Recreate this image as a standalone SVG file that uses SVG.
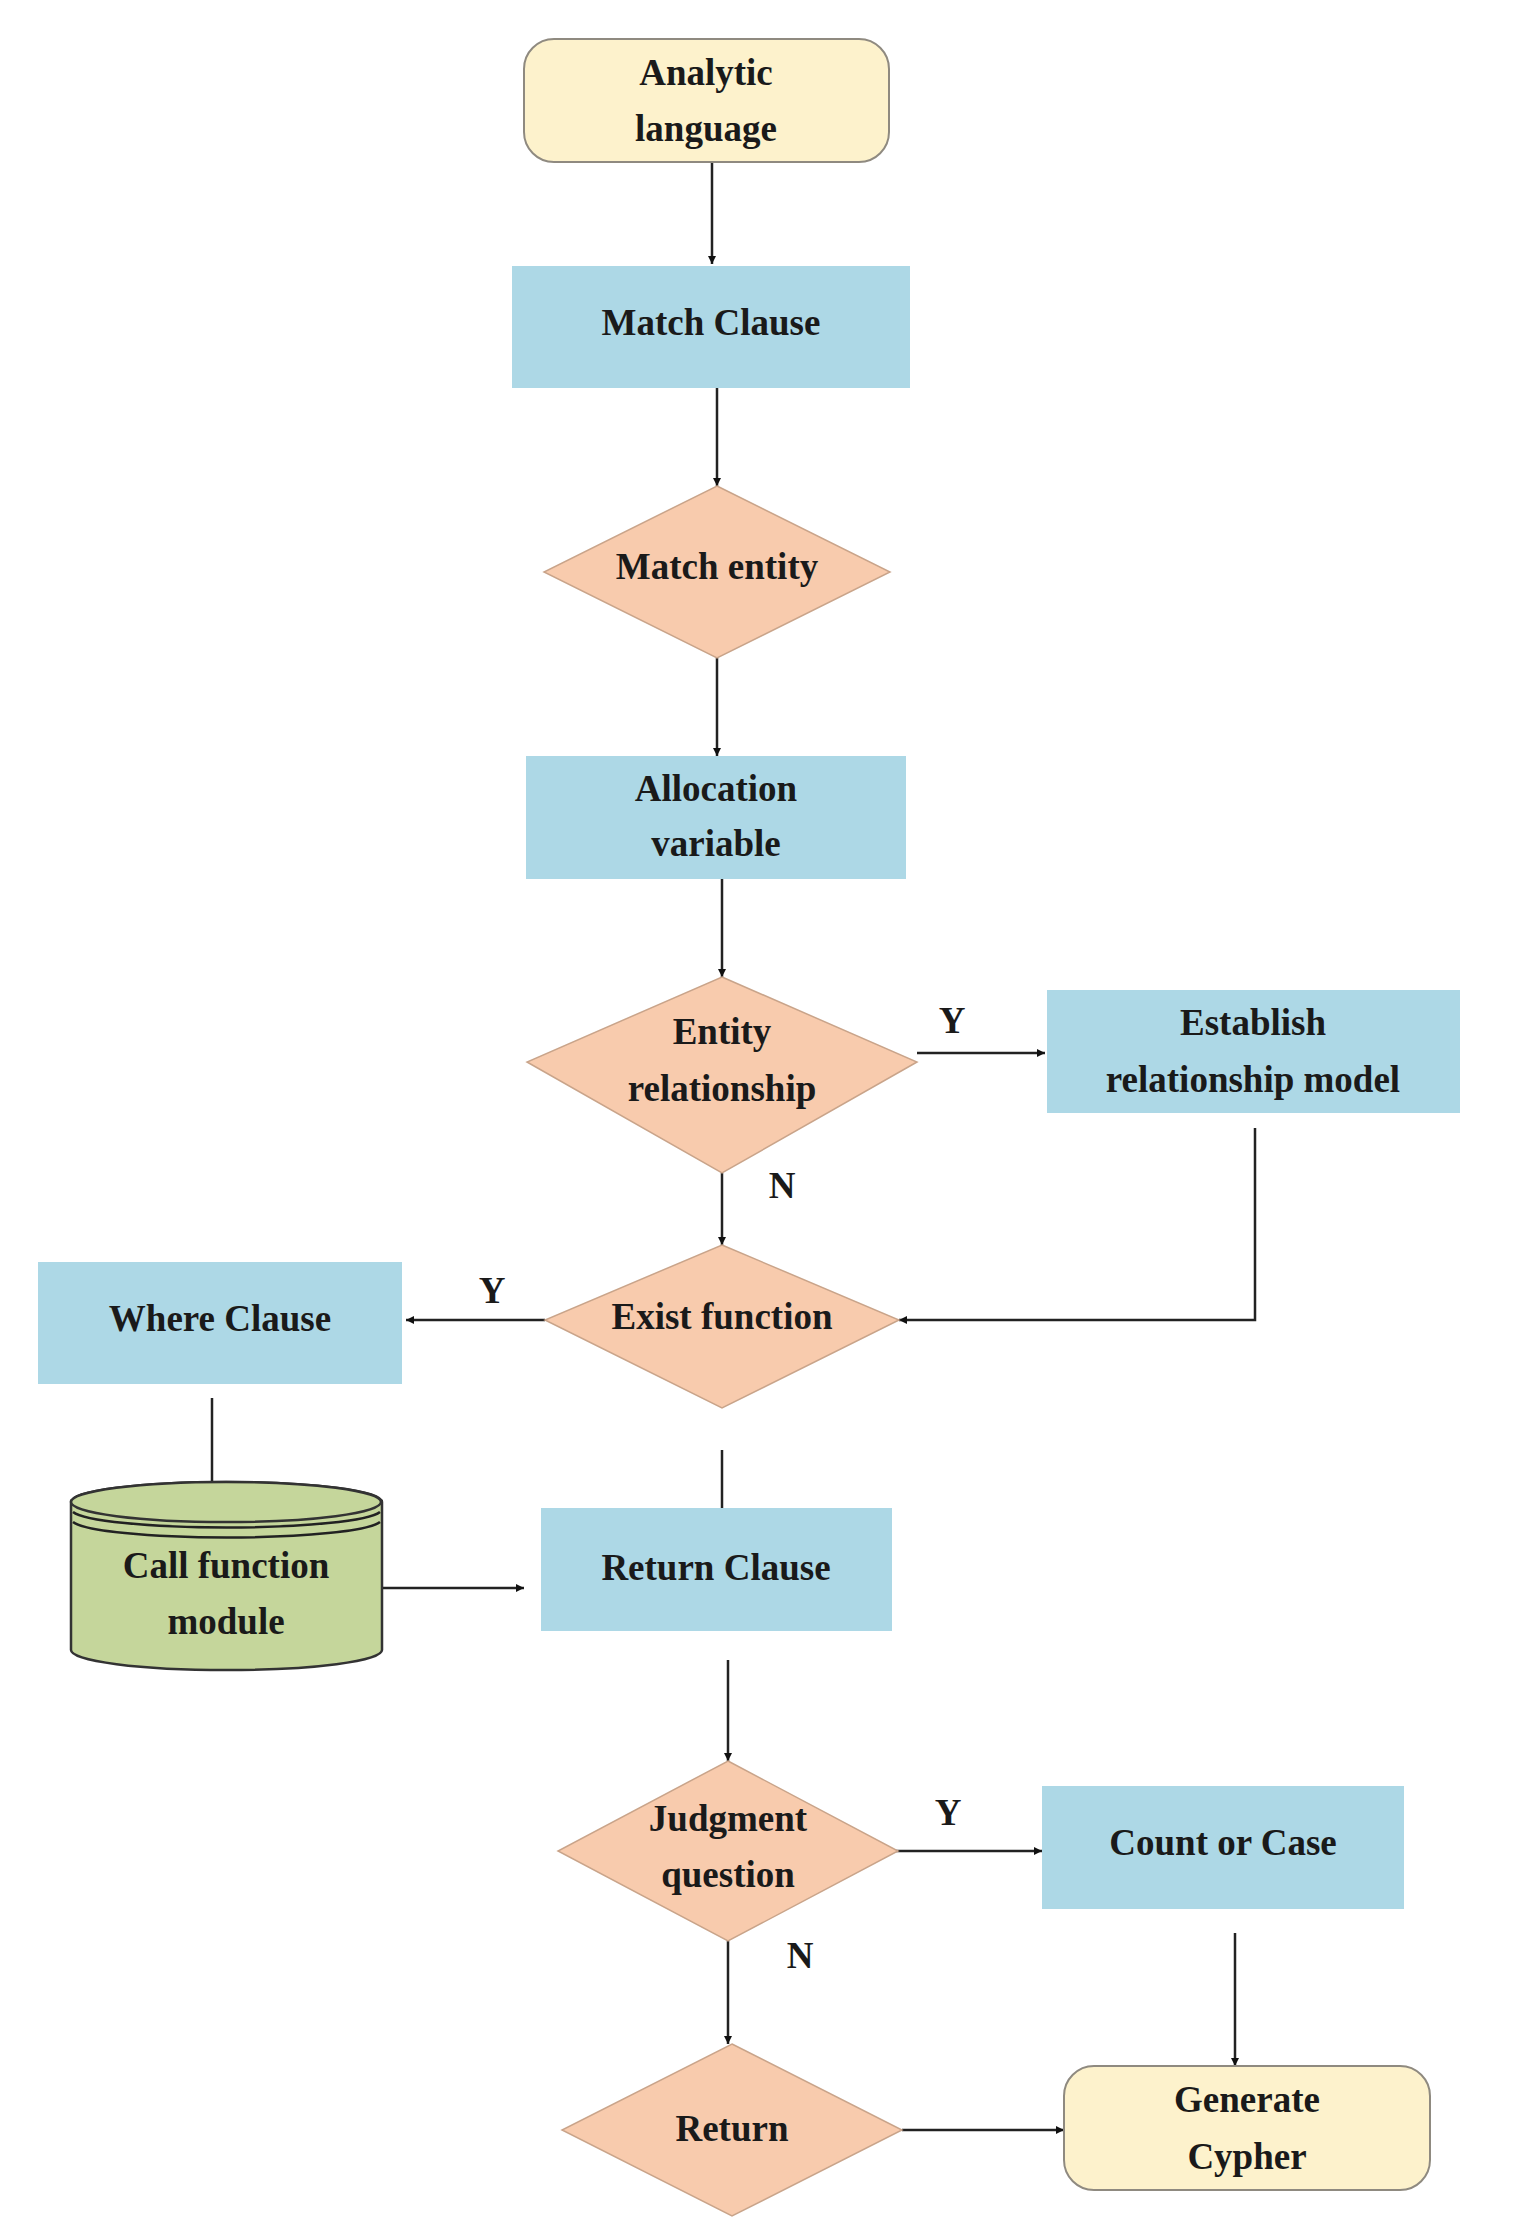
<svg xmlns="http://www.w3.org/2000/svg" width="1528" height="2230" viewBox="0 0 1528 2230">
<style>
text{font-family:"Liberation Serif","Times New Roman",serif;font-weight:bold;font-size:37px;fill:#1a1a1a;text-anchor:middle;dominant-baseline:central}
.box{fill:#add8e6}
.dia{fill:#f8cbad;stroke:#c9a48a;stroke-width:1.5}
.term{fill:#fdf2cc;stroke:#8f8a80;stroke-width:2}
.cyl{fill:#c5d69b;stroke:#333;stroke-width:2.5}
.ln{fill:none;stroke:#222;stroke-width:2.5}
</style>
<defs><marker id="ah" viewBox="0 0 10 10" refX="10" refY="5" markerWidth="8" markerHeight="8" markerUnits="userSpaceOnUse" orient="auto"><path d="M0,0L10,5L0,10z" fill="#111"/></marker></defs>
<rect width="1528" height="2230" fill="#fff"/>
<g id="connectors">
<path class="ln" marker-end="url(#ah)" transform="scale(1)" d="M712,162V264"/>
<path class="ln" d="M717,388V486" marker-end="url(#ah)"/>
<path class="ln" d="M717,658V756" marker-end="url(#ah)"/>
<path class="ln" d="M722,879V977" marker-end="url(#ah)"/>
<path class="ln" d="M917,1053H1045" marker-end="url(#ah)"/>
<path class="ln" d="M722,1173V1245" marker-end="url(#ah)"/>
<path class="ln" d="M1255,1128V1320H899" marker-end="url(#ah)"/>
<path class="ln" d="M545,1320H406" marker-end="url(#ah)"/>
<path class="ln" d="M212,1398V1502" marker-end="url(#ah)"/>
<path class="ln" d="M722,1450V1528" marker-end="url(#ah)"/>
<path class="ln" d="M382,1588H524" marker-end="url(#ah)"/>
<path class="ln" d="M728,1660V1761" marker-end="url(#ah)"/>
<path class="ln" d="M896,1851H1042" marker-end="url(#ah)"/>
<path class="ln" d="M728,1933V2044" marker-end="url(#ah)"/>
<path class="ln" d="M1235,1933V2066" marker-end="url(#ah)"/>
<path class="ln" d="M902,2130H1064" marker-end="url(#ah)"/>
<text x="952" y="1020">Y</text>
<text x="782" y="1185">N</text>
<text x="492" y="1290">Y</text>
<text x="948" y="1812">Y</text>
<text x="800" y="1955">N</text>
</g>
<g id="analytic"><rect class="term" x="524" y="39" width="365" height="123" rx="30"/><text x="706" y="72">Analytic</text><text x="706" y="128">language</text></g>
<g id="match-clause"><rect class="box" x="512" y="266" width="398" height="122"/><text x="711" y="322">Match Clause</text></g>
<g id="match-entity"><path class="dia" d="M717,486L890,572L717,658L544,572z"/><text x="717" y="566">Match entity</text></g>
<g id="allocation"><rect class="box" x="526" y="756" width="380" height="123"/><text x="716" y="788">Allocation</text><text x="716" y="843">variable</text></g>
<g id="entity-rel"><path class="dia" d="M722,977L917,1062L722,1173L527,1062z"/><text x="722" y="1031">Entity</text><text x="722" y="1088">relationship</text></g>
<g id="establish"><rect class="box" x="1047" y="990" width="413" height="123"/><text x="1253" y="1022">Establish</text><text x="1253" y="1079">relationship model</text></g>
<g id="exist"><path class="dia" d="M722,1245L899,1320L722,1408L545,1320z"/><text x="722" y="1316">Exist function</text></g>
<g id="where"><rect class="box" x="38" y="1262" width="364" height="122"/><text x="220" y="1318">Where Clause</text></g>
<g id="call"><path class="cyl" d="M71,1502V1650A155,20 0 0 0 382,1650V1502A155,20 0 0 0 71,1502z"/><ellipse class="cyl" cx="226" cy="1502" rx="155" ry="20"/><path class="ln" d="M73,1512A155,18 0 0 0 380,1512M73,1522A155,18 0 0 0 380,1522" stroke-width="2"/><text x="226" y="1565">Call function</text><text x="226" y="1621">module</text></g>
<g id="return-clause"><rect class="box" x="541" y="1508" width="351" height="123"/><text x="716" y="1567">Return Clause</text></g>
<g id="judgment"><path class="dia" d="M728,1761L898,1851L728,1941L558,1851z"/><text x="728" y="1818">Judgment</text><text x="728" y="1874">question</text></g>
<g id="count"><rect class="box" x="1042" y="1786" width="362" height="123"/><text x="1223" y="1842">Count or Case</text></g>
<g id="return"><path class="dia" d="M732,2044L902,2130L732,2216L562,2130z"/><text x="732" y="2128">Return</text></g>
<g id="generate"><rect class="term" x="1064" y="2066" width="366" height="124" rx="30"/><text x="1247" y="2099">Generate</text><text x="1247" y="2156">Cypher</text></g>
</svg>
